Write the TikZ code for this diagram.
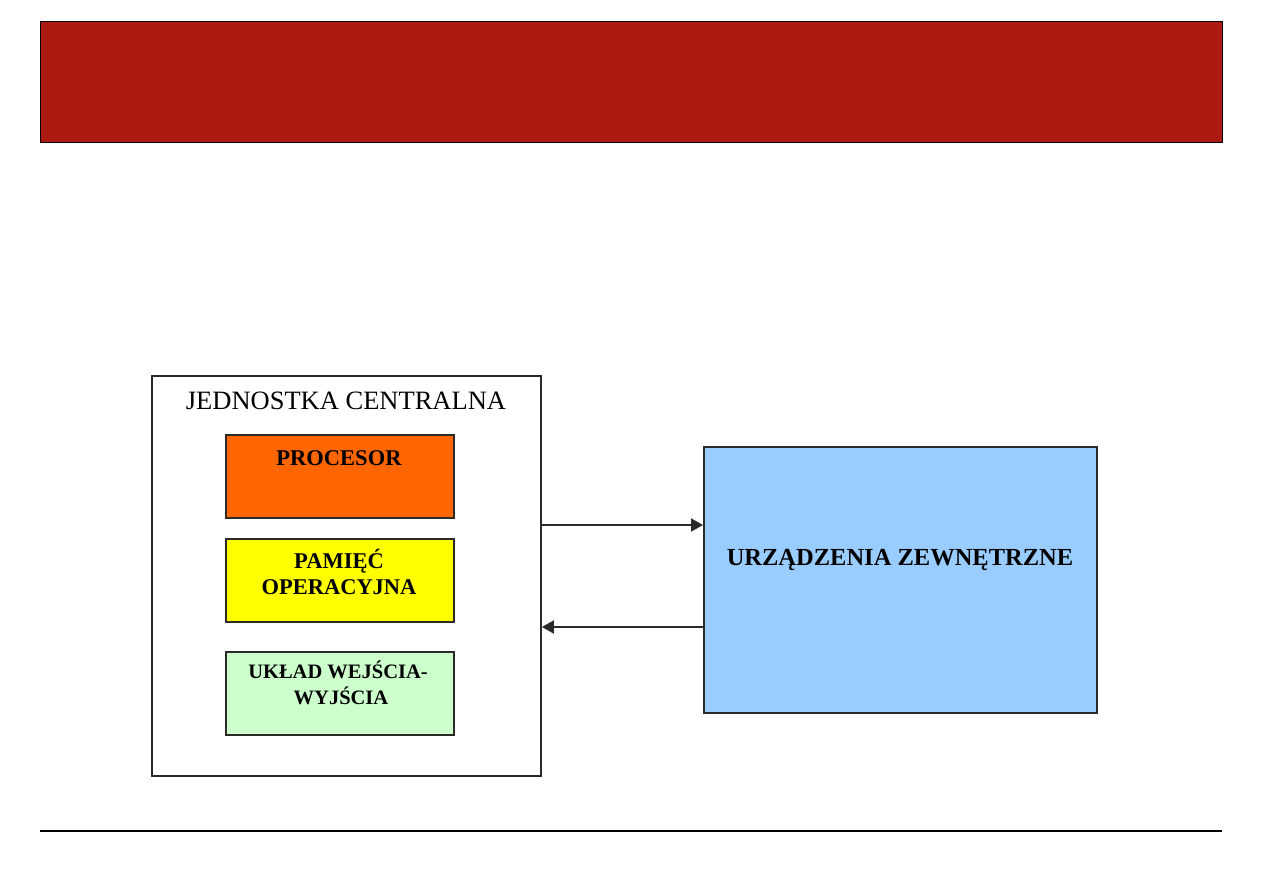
\documentclass[tikz,border=0pt]{standalone}
\usepackage{fontspec}
\setmainfont{Liberation Serif}
\usetikzlibrary{arrows.meta,calc}
\definecolor{barred}{HTML}{AD1A12}
\definecolor{procorange}{HTML}{FF6600}
\definecolor{memyellow}{HTML}{FFFF00}
\definecolor{iogreen}{HTML}{CCFFCC}
\definecolor{extblue}{HTML}{99CCFF}
\definecolor{edge}{HTML}{2A2A2A}
\tikzset{
  box/.style={draw=edge, line width=1.9pt, rectangle, inner sep=0pt, anchor=north west},
  inner/.style={box, minimum width=228pt, minimum height=83pt},
  lbl/.style={font=\bfseries\fontsize{22.5}{27}\selectfont, inner sep=0pt, anchor=base},
  lblsmall/.style={lbl, font=\bfseries\fontsize{20.5}{25}\selectfont},
  conn/.style={draw=edge, line width=1.9pt, -{Triangle[length=12pt,width=13pt]}},
}
\begin{document}
\begin{tikzpicture}[x=1pt,y=-1pt]
\useasboundingbox (0,0) rectangle (1263,893);
% header bar
\node[draw=black, line width=1.3pt, fill=barred, minimum width=1182pt, minimum height=121pt, inner sep=0pt, anchor=north west] (bar) at (40,21) {};
% footer rule
\coordinate (fl) at (40,831);
\coordinate (fr) at (1222,831);
\draw[line width=1.6pt] (fl) -- (fr);
% central unit
\node[box, fill=white, minimum width=389pt, minimum height=400pt] (cpu) at (151,375) {};
\node[font=\fontsize{26.5}{32}\selectfont, inner sep=0pt, anchor=base] (cputitle) at (346,409) {JEDNOSTKA CENTRALNA};
\node[inner, fill=procorange] (proc) at (225,434) {};
\node[lbl] (proctext) at (339,465) {PROCESOR};
\node[inner, fill=memyellow] (mem) at (225,538) {};
\node[lbl] (memtexta) at (339,568) {PAMIĘĆ};
\node[lbl] (memtextb) at (339,594) {OPERACYJNA};
\node[inner, fill=iogreen] (io) at (225,651) {};
\node[lblsmall] (iotexta) at (338,678) {UKŁAD WEJŚCIA-};
\node[lblsmall] (iotextb) at (341,704) {WYJŚCIA};
% external devices
\node[box, fill=extblue, minimum width=393pt, minimum height=266pt] (ext) at (703,446) {};
\node[font=\bfseries\fontsize{24.5}{29}\selectfont, inner sep=0pt, anchor=base] (exttext) at (900,565) {URZĄDZENIA ZEWNĘTRZNE};
% connectors
\draw[conn] (cpu.east |- 0,525) -- (ext.west |- 0,525);
\draw[conn] (ext.west |- 0,627) -- (cpu.east |- 0,627);
\end{tikzpicture}
\end{document}
